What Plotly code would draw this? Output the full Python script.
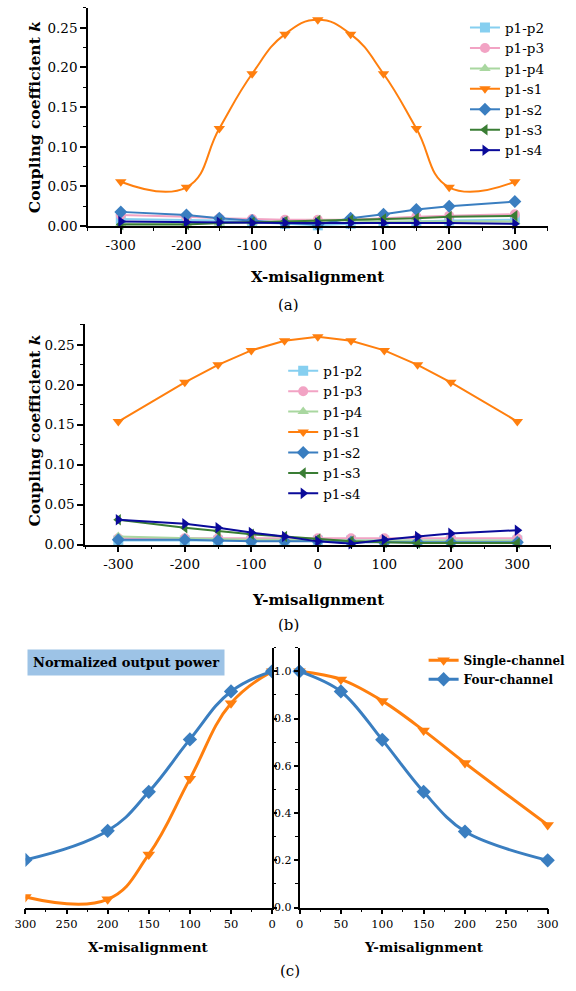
import plotly.graph_objects as go

W, H = 576, 991
SERIF = "DejaVu Serif"

# ---------------- data ----------------
x_mis = [-300, -200, -150, -100, -50, 0, 50, 100, 150, 200, 300]
x_ticks = [-300, -200, -100, 0, 100, 200, 300]
x_tick_text = ["-300", "-200", "-100", "0", "100", "200", "300"]
k_ticks = [0.00, 0.05, 0.10, 0.15, 0.20, 0.25]
k_tick_text = ["0.00", "0.05", "0.10", "0.15", "0.20", "0.25"]

series_names = ["p1-p2", "p1-p3", "p1-p4", "p1-s1", "p1-s2", "p1-s3", "p1-s4"]
series_colors = ["#86CFF0", "#F2A3C4", "#A9D7A0", "#FF7F0E", "#3A7EC0", "#3A7D34", "#0A0A9A"]
series_symbols = ["square", "circle", "triangle-up", "triangle-down", "diamond",
                  "triangle-left", "triangle-right"]

# (a) X-misalignment
a_p1p2 = [0.009, 0.008, 0.007, 0.005, 0.003, 0.001, 0.003, 0.005, 0.006, 0.007, 0.008]
a_p1p3 = [0.014, 0.012, 0.010, 0.009, 0.008, 0.008, 0.008, 0.010, 0.012, 0.013, 0.015]
a_p1p4 = [0.003, 0.003, 0.004, 0.005, 0.006, 0.007, 0.007, 0.006, 0.006, 0.006, 0.006]
a_p1s1 = [0.056, 0.049, 0.123, 0.192, 0.242, 0.260, 0.242, 0.192, 0.123, 0.049, 0.056]
a_p1s2 = [0.018, 0.014, 0.010, 0.007, 0.004, 0.002, 0.010, 0.015, 0.021, 0.025, 0.031]
a_p1s3 = [0.002, 0.002, 0.004, 0.005, 0.006, 0.007, 0.008, 0.009, 0.010, 0.012, 0.013]
a_p1s4 = [0.006, 0.005, 0.005, 0.004, 0.004, 0.004, 0.004, 0.004, 0.004, 0.004, 0.003]

# (b) Y-misalignment
b_p1p2 = [0.005, 0.005, 0.005, 0.005, 0.005, 0.005, 0.005, 0.005, 0.005, 0.005, 0.005]
b_p1p3 = [0.008, 0.008, 0.008, 0.008, 0.008, 0.008, 0.008, 0.008, 0.008, 0.008, 0.008]
b_p1p4 = [0.010, 0.008, 0.007, 0.006, 0.006, 0.006, 0.005, 0.005, 0.005, 0.005, 0.005]
b_p1s1 = [0.154, 0.203, 0.225, 0.243, 0.255, 0.260, 0.255, 0.243, 0.225, 0.203, 0.154]
b_p1s2 = [0.006, 0.006, 0.005, 0.004, 0.004, 0.004, 0.003, 0.003, 0.003, 0.003, 0.003]
b_p1s3 = [0.031, 0.021, 0.017, 0.013, 0.010, 0.007, 0.004, 0.003, 0.002, 0.002, 0.002]
b_p1s4 = [0.031, 0.026, 0.021, 0.015, 0.010, 0.004, 0.001, 0.006, 0.010, 0.014, 0.018]

# (c) Normalized output power
c_x = [0, 50, 100, 150, 200, 300]
c_x_single_X = [1.0, 0.865, 0.545, 0.225, 0.035, 0.045]
c_x_four_X = [1.0, 0.915, 0.712, 0.490, 0.325, 0.202]
c_y_single_Y = [1.0, 0.966, 0.875, 0.750, 0.612, 0.350]
c_y_four_Y = [1.0, 0.915, 0.710, 0.490, 0.322, 0.200]
c_ticks_x = [0, 50, 100, 150, 200, 250, 300]
c_ticks_y = [0.0, 0.2, 0.4, 0.6, 0.8, 1.0]
c_tick_text_y = ["0.0", "0.2", "0.4", "0.6", "0.8", "1.0"]
c_names = ["Single-channel", "Four-channel"]
c_colors = ["#FF7F0E", "#3A7EC0"]
c_symbols = ["triangle-down", "diamond"]


def px(p):
    return p / W


def py(p):
    return 1 - p / H


fig = go.Figure()

a_data = [a_p1p2, a_p1p3, a_p1p4, a_p1s1, a_p1s2, a_p1s3, a_p1s4]
b_data = [b_p1p2, b_p1p3, b_p1p4, b_p1s1, b_p1s2, b_p1s3, b_p1s4]

legends = {}
ROW_A0, ROW_B0, ROW_GAP = 28, 374, 20.6
LEG_FONT = dict(family=SERIF, size=13.5, color="black")
for i, name in enumerate(series_names):
    shape = "spline" if name == "p1-s1" else "linear"
    lid = "legend" if i == 0 else "legend%d" % (i + 1)
    legends[lid] = dict(x=px(472), y=py(ROW_A0 + i * ROW_GAP), yanchor="middle",
                        font=LEG_FONT)
    fig.add_trace(go.Scatter(
        x=x_mis, y=a_data[i], name=name, mode="lines+markers",
        line=dict(color=series_colors[i], width=2, shape=shape, smoothing=1.3),
        marker=dict(symbol=series_symbols[i], size=10, color=series_colors[i]),
        xaxis="x", yaxis="y", legend=lid, cliponaxis=False))

for i, name in enumerate(series_names):
    lid = "legend%d" % (i + 8)
    legends[lid] = dict(x=px(283), y=py(ROW_B0 + i * ROW_GAP), yanchor="middle",
                        font=LEG_FONT)
    fig.add_trace(go.Scatter(
        x=x_mis, y=b_data[i], name=name, mode="lines+markers",
        line=dict(color=series_colors[i], width=2),
        marker=dict(symbol=series_symbols[i], size=10, color=series_colors[i]),
        xaxis="x2", yaxis="y2", legend=lid, cliponaxis=False))

c_left = [c_x_single_X, c_x_four_X]
c_right = [c_y_single_Y, c_y_four_Y]
for i in range(2):
    fig.add_trace(go.Scatter(
        x=c_x, y=c_left[i], name=c_names[i], mode="lines+markers", showlegend=False,
        line=dict(color=c_colors[i], width=3, shape="spline", smoothing=1.2),
        marker=dict(symbol=c_symbols[i], size=11, color=c_colors[i]),
        xaxis="x3", yaxis="y3", legend="legend15", cliponaxis=True))
for i in range(2):
    fig.add_trace(go.Scatter(
        x=c_x, y=c_right[i], name=c_names[i], mode="lines+markers",
        line=dict(color=c_colors[i], width=3, shape="spline", smoothing=1.0),
        marker=dict(symbol=c_symbols[i], size=11, color=c_colors[i]),
        xaxis="x4", yaxis="y4", legend="legend15", cliponaxis=False))
legends["legend15"] = dict(x=px(429), y=py(651), yanchor="top",
                           font=dict(family=SERIF, size=12, color="black", weight="bold"))

for lid, d in legends.items():
    d.update(bgcolor="rgba(0,0,0,0)", borderwidth=0, tracegroupgap=0,
             xanchor="left", itemwidth=30)


def minor(dt):
    return dict(ticks="outside", ticklen=3, tickwidth=1.2, tickcolor="black",
                dtick=dt, tick0=0, showgrid=False)


def axis(size=13.5, **kw):
    d = dict(showline=True, linecolor="black", linewidth=1.5, ticks="outside",
             ticklen=6, tickwidth=1.5, tickcolor="black", showgrid=False,
             zeroline=False, mirror=False,
             tickfont=dict(family=SERIF, size=size, color="black"))
    d.update(kw)
    return d


fig.update_layout(
    xaxis=axis(domain=[px(80), px(558)], range=[-350, 350], anchor="y",
               tickmode="array", tickvals=x_ticks, ticktext=x_tick_text, minor=minor(50)),
    yaxis=axis(domain=[py(228), py(8)], range=[0, 0.275], anchor="x",
               tickmode="array", tickvals=k_ticks, ticktext=k_tick_text, minor=minor(0.025)),
    xaxis2=axis(domain=[px(77), px(561)], range=[-350, 350], anchor="y2",
                tickmode="array", tickvals=x_ticks, ticktext=x_tick_text, minor=minor(50)),
    yaxis2=axis(domain=[py(549), py(327)], range=[0, 0.2756], anchor="x2",
                tickmode="array", tickvals=k_ticks, ticktext=k_tick_text, minor=minor(0.025)),
    xaxis3=axis(11.5, domain=[px(15), px(271.5)], range=[300, 0], anchor="y3",
                tickmode="array", tickvals=c_ticks_x, ticklen=5, minor=minor(25)),
    yaxis3=axis(11, domain=[py(915), py(653)], range=[0, 1.1], anchor="x3",
                side="right", showticklabels=False, tickmode="array", tickvals=c_ticks_y,
                ticklen=3, minor=dict(ticks="outside", ticklen=2, tickwidth=1.2,
                                      tickcolor="black", dtick=0.1, tick0=0,
                                      showgrid=False)),
    xaxis4=axis(11.5, domain=[px(300), px(558)], range=[0, 300], anchor="y4",
                tickmode="array", tickvals=c_ticks_x, ticklen=5, minor=minor(25)),
    yaxis4=axis(11, domain=[py(915), py(653)], range=[0, 1.1], anchor="x4",
                tickmode="array", tickvals=c_ticks_y, ticktext=c_tick_text_y, ticklen=4,
                minor=minor(0.1)),
)
fig.update_layout(**legends)

ann = []


def text(x, y, s, size, bold=False, **kw):
    d = dict(x=px(x), y=py(y), xref="paper", yref="paper", text=s, showarrow=False,
             font=dict(family=SERIF, size=size, color="black",
                       weight="bold" if bold else "normal"),
             xanchor="center", yanchor="middle")
    d.update(kw)
    ann.append(d)


text(319, 279, "X-misalignment", 15, bold=True)
text(288, 307, "(a)", 15)
text(24, 118, "Coupling coefficient <i>k</i>", 15.5, bold=True, textangle=-90)
text(319, 605, "Y-misalignment", 15, bold=True)
text(288, 630, "(b)", 15)
text(24, 434, "Coupling coefficient <i>k</i>", 15.5, bold=True, textangle=-90)
text(143, 955, "X-misalignment", 13.5, bold=True)
text(429, 955, "Y-misalignment", 13.5, bold=True)
text(290, 979, "(c)", 15)
text(16.5, 667.5, "Normalized output power", 13, bold=True, xanchor="left",
     bgcolor="#9DC3E6", borderpad=5)

fig.update_layout(annotations=ann, width=W, height=H,
                  margin=dict(l=0, r=0, t=0, b=0),
                  paper_bgcolor="white", plot_bgcolor="white", showlegend=True)

fig.write_html("out.html")
